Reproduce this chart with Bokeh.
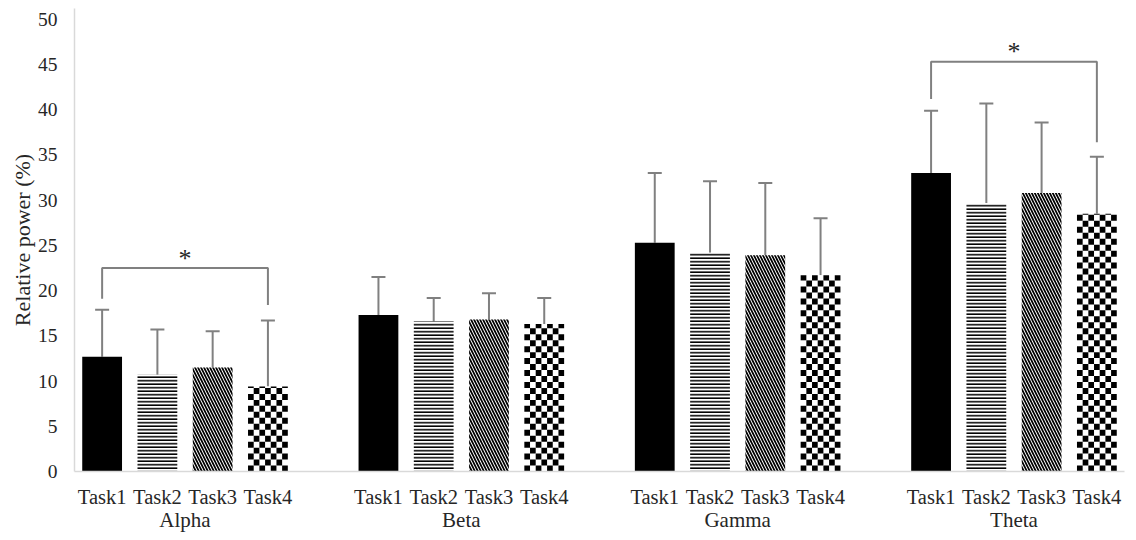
from bokeh.plotting import figure
from bokeh.models import (FactorRange, Range1d, ColumnDataSource, Whisker, TeeHead,
                          SingleIntervalTicker, CategoricalAxis)
from bokeh.transform import dodge
from bokeh.core.properties import value
from bokeh.embed import file_html
from bokeh.resources import INLINE

# ---------------- data ----------------
bands = ["Alpha", "Beta", "Gamma", "Theta"]
tasks = ["Task1", "Task2", "Task3", "Task4"]

mean_task1 = [12.7, 17.3, 25.3, 33.0]
mean_task2 = [10.7, 16.6, 24.2, 29.7]
mean_task3 = [11.5, 16.8, 23.9, 30.8]
mean_task4 = [9.4, 16.3, 21.7, 28.5]

sd_task1 = [5.2, 4.2, 7.7, 6.9]
sd_task2 = [5.0, 2.6, 7.9, 11.0]
sd_task3 = [4.0, 2.9, 8.0, 7.8]
sd_task4 = [7.3, 2.9, 6.3, 6.3]

# significance brackets (Task1 vs Task4)
sig_bands = ["Alpha", "Theta"]
sig_bracket_y = [22.5, 45.3]
sig_left_end = [19.1, 41.2]
sig_right_end = [18.4, 36.4]
sig_star_y = [23.6, 46.4]

means = [mean_task1, mean_task2, mean_task3, mean_task4]
sds = [sd_task1, sd_task2, sd_task3, sd_task4]

FONT = "Liberation Serif"
TXT = "#262626"
GREY = "#808080"
BAR_W = 0.72

factors = [(b, t) for b in bands for t in tasks]
p = figure(x_range=FactorRange(*factors, range_padding=0, group_padding=1.0,
                               factor_padding=0),
           y_range=Range1d(0, 51.2),
           frame_width=1050, frame_height=463,
           min_border_left=74, min_border_right=4, min_border_top=8,
           min_border_bottom=62,
           output_backend="svg", toolbar_location=None)
p.outline_line_color = None
p.xgrid.grid_line_color = None
p.ygrid.grid_line_color = None
p.background_fill_color = "white"
p.border_fill_color = "white"

# band-level range aligned with the nested range's group centres
p.extra_x_ranges = {"bands": FactorRange(*bands, factor_padding=0.25, range_padding=0)}

styles = [
    dict(fill_color="black"),
    dict(fill_color="white", hatch_pattern="horizontal_line", hatch_color="black",
         hatch_scale=3.5, hatch_weight=1.6),
    dict(fill_color="white", hatch_pattern="left_diagonal_line", hatch_color="black",
         hatch_scale=6, hatch_weight=1.7),
    dict(fill_color="white"),
]

for k, t in enumerate(tasks):
    src = ColumnDataSource(dict(x=[(b, t) for b in bands], top=means[k]))
    p.vbar(x="x", top="top", width=BAR_W, source=src, line_color=None, **styles[k])

# checkerboard for Task4 bars built from the Task4 means
n_cols = 7
cell_w = BAR_W / n_cols
cell_h = 0.66
for j in range(n_cols):
    xs, bots, tops = [], [], []
    for b, m in zip(bands, mean_task4):
        i = 0
        while i * cell_h < m:
            if (i + j) % 2 == 0:
                xs.append((b, "Task4"))
                bots.append(i * cell_h)
                tops.append(min((i + 1) * cell_h, m))
            i += 1
    src = ColumnDataSource(dict(x=xs, bottom=bots, top=tops))
    off = -BAR_W / 2 + (j + 0.5) * cell_w
    p.vbar(x=dodge("x", off, range=p.x_range), bottom="bottom", top="top",
           width=cell_w, source=src, fill_color="black", line_color=None)

# error bars
ex, lo, up = [], [], []
for k, t in enumerate(tasks):
    for i, b in enumerate(bands):
        ex.append((b, t))
        lo.append(means[k][i])
        up.append(means[k][i] + sds[k][i])
esrc = ColumnDataSource(dict(x=ex, lower=lo, upper=up))
p.add_layout(Whisker(base="x", lower="lower", upper="upper", source=esrc,
                     line_color=GREY, line_width=2,
                     upper_head=TeeHead(size=14, line_color=GREY, line_width=2),
                     lower_head=None))

# significance brackets
bxs, bys = [], []
for b, yb, yl, yr in zip(sig_bands, sig_bracket_y, sig_left_end, sig_right_end):
    bxs.append([(b, "Task1"), (b, "Task1"), (b, "Task4"), (b, "Task4")])
    bys.append([yl, yb, yb, yr])
p.multi_line(xs=bxs, ys=bys, line_color=GREY, line_width=2)
p.text(x=sig_bands, y=sig_star_y, text=["*"] * len(sig_bands),
       text_font=value(FONT), text_font_size="26px", text_color=TXT,
       text_align="center", text_baseline="middle")

# axes
xa = p.xaxis[0]
xa.axis_line_color = "#d9d9d9"
xa.axis_line_width = 1.5
xa.major_tick_line_color = None
xa.minor_tick_line_color = None
xa.major_label_text_font = FONT
xa.major_label_text_font_size = "20.5px"
xa.major_label_text_color = TXT
xa.major_label_standoff = 8
xa.group_text_font_size = "1px"
xa.group_text_alpha = 0
xa.separator_line_color = None

ga = CategoricalAxis(x_range_name="bands")
ga.axis_line_color = None
ga.major_tick_line_color = None
ga.minor_tick_line_color = None
ga.major_label_text_font = FONT
ga.major_label_text_font_size = "21px"
ga.major_label_text_color = TXT
ga.major_label_standoff = -9
p.add_layout(ga, "below")

ya = p.yaxis[0]
ya.ticker = SingleIntervalTicker(interval=5)
ya.axis_line_color = "#d9d9d9"
ya.axis_line_width = 1.5
ya.major_tick_line_color = None
ya.minor_tick_line_color = None
ya.major_tick_out = 0
ya.major_tick_in = 0
ya.major_label_text_font = FONT
ya.major_label_text_font_size = "19.5px"
ya.major_label_text_color = TXT
ya.major_label_standoff = 13
ya.axis_label = "Relative power (%)"
ya.axis_label_text_font = FONT
ya.axis_label_text_font_size = "22px"
ya.axis_label_text_font_style = "normal"
ya.axis_label_text_color = TXT
ya.axis_label_standoff = 0

open("out.html", "w").write(file_html(p, INLINE))
